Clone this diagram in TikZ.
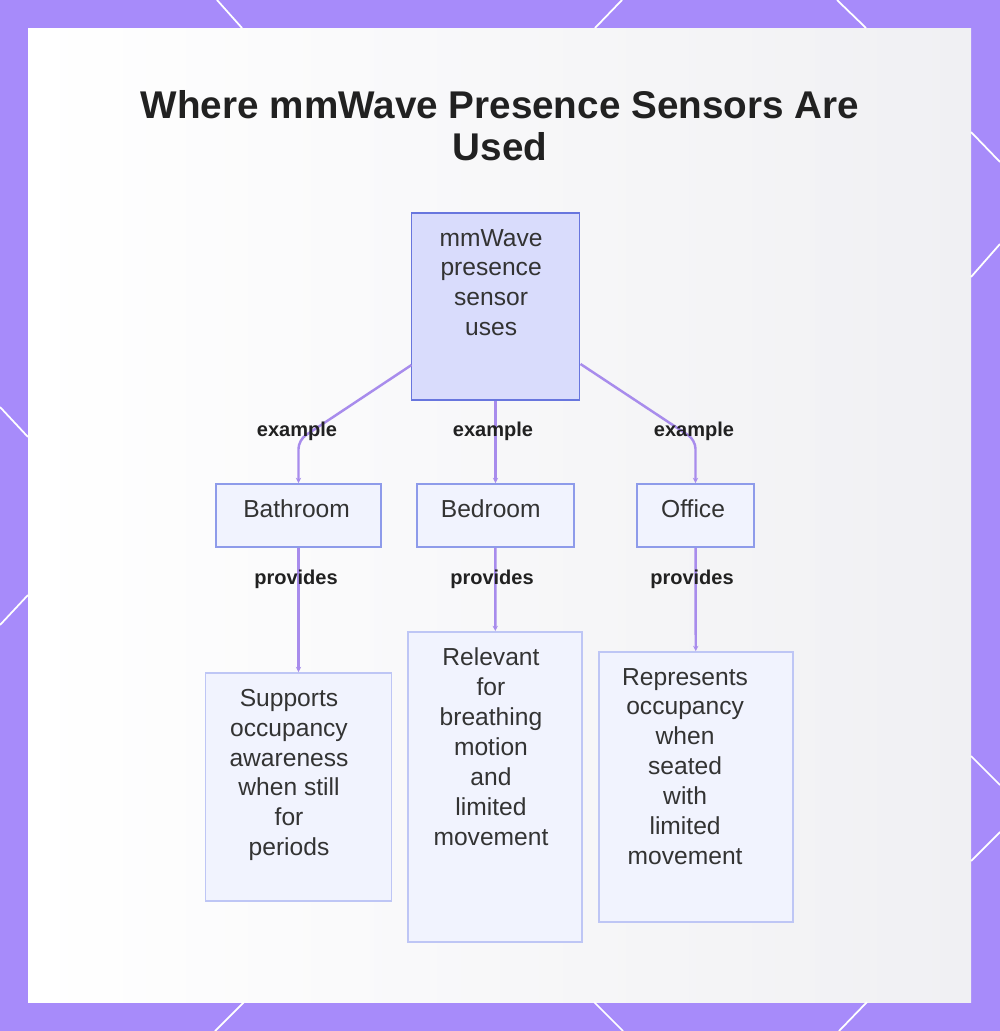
\documentclass[tikz,border=0pt]{standalone}
\usepackage{fontspec}
\setmainfont{Liberation Sans}
\usetikzlibrary{arrows.meta,positioning}

\definecolor{frameColor}{RGB}{167,139,250}
\definecolor{panelGray}{RGB}{240,240,243}
\definecolor{rootFill}{RGB}{217,220,252}
\definecolor{rootLine}{RGB}{104,118,222}
\definecolor{itemFill}{RGB}{241,243,254}
\definecolor{itemLine}{RGB}{142,155,234}
\definecolor{leafLine}{RGB}{190,198,245}
\definecolor{linkColor}{RGB}{168,140,236}
\definecolor{textColor}{RGB}{51,51,51}

\begin{document}
\begin{tikzpicture}[x=0.02cm,y=-0.02cm,
  box/.style={draw, line width=1.1pt, inner sep=0pt},
  boxtext/.style={align=center, inner sep=0pt, text=textColor, font=\fontsize{14}{17}\selectfont},
  tag/.style={inner sep=1pt, text=black!87, font=\fontsize{11.4}{13}\selectfont\bfseries},
  link/.style={draw=linkColor, line width=1.4pt, rounded corners=5pt, -{Stealth[length=3pt,width=3pt]}}]
  \useasboundingbox (0,0) rectangle (1000,1031);
  % Frame
  \fill[frameColor] (0,0) rectangle (1000,1031);
  \shade[left color=white, right color=panelGray] (28,28) rectangle (971,1002);
  \draw[white, line width=1pt] (217,0) -- (242,28) (622,0) -- (595,28) (837,0) -- (866,28);
  \draw[white, line width=1pt] (244,1002) -- (215,1031) (594,1002) -- (623,1031) (867,1002) -- (839,1031);
  \draw[white, line width=1pt] (0,407) -- (28,437) (28,595) -- (0,625);
  \draw[white, line width=1pt] (971,132) -- (1000,162) (971,277) -- (1000,244);
  \draw[white, line width=1pt] (971,756) -- (1000,785) (971,861) -- (1000,832);
  % Title
  \node[align=center, text=black!87, font=\fontsize{22}{24}\selectfont\bfseries] (title) at (500,126)
    {Where mmWave Presence Sensors Are\\Used};
  % Root
  \node[box, draw=rootLine, fill=rootFill, minimum width=3.36cm, minimum height=3.74cm] (root) at (495.5,306.5) {};
  \node[boxtext, below=9.5pt of root.north, xshift=-2.5pt] (rootText) {mmWave\\presence\\sensor\\uses};
  % Places
  \node[box, draw=itemLine, fill=itemFill, minimum width=3.3cm, minimum height=1.26cm] (bath) at (298.5,515.5) {};
  \node[boxtext, below=9.5pt of bath.north, xshift=-1.1pt] (bathText) {Bathroom};
  \node[box, draw=itemLine, fill=itemFill, minimum width=3.14cm, minimum height=1.26cm] (bed) at (495.5,515.5) {};
  \node[boxtext, below=9.5pt of bed.north, xshift=-2.7pt] (bedText) {Bedroom};
  \node[box, draw=itemLine, fill=itemFill, minimum width=2.34cm, minimum height=1.26cm] (office) at (695.5,515.5) {};
  \node[boxtext, below=9.5pt of office.north, xshift=-1.4pt] (officeText) {Office};
  % Benefits
  \node[box, draw=leafLine, fill=itemFill, minimum width=3.72cm, minimum height=4.56cm] (still) at (298.5,787) {};
  \node[boxtext, below=9.5pt of still.north, xshift=-5.4pt] (stillText) {Supports\\occupancy\\awareness\\when still\\for\\periods};
  \node[box, draw=leafLine, fill=itemFill, minimum width=3.48cm, minimum height=6.2cm] (breath) at (495,787) {};
  \node[boxtext, below=9.5pt of breath.north, xshift=-2.3pt] (breathText) {Relevant\\for\\breathing\\motion\\and\\limited\\movement};
  \node[box, draw=leafLine, fill=itemFill, minimum width=3.88cm, minimum height=5.4cm] (seated) at (696,787) {};
  \node[boxtext, below=9.5pt of seated.north, xshift=-6.2pt] (seatedText) {Represents\\occupancy\\when\\seated\\with\\limited\\movement};
  % Links
  \coordinate (rootL) at (411.5,365);
  \coordinate (bendL) at (298.5,440);
  \coordinate (rootR) at (580.5,364);
  \coordinate (bendR) at (695.5,440);
  \draw[link] (rootL) -- (bendL) -- (bath);
  \draw[link] (root) -- (bed);
  \draw[link] (rootR) -- (bendR) -- (office);
  \draw[link] (bath) -- (still);
  \draw[link] (bed) -- (breath);
  \draw[link] (office) -- (seated);
  \node[tag] (exBath) at (297,431) {example};
  \node[tag] (exBed) at (493,431) {example};
  \node[tag] (exOffice) at (694,431) {example};
  \node[tag] (prBath) at (296,579) {provides};
  \node[tag] (prBed) at (492,579) {provides};
  \node[tag] (prOffice) at (692,579) {provides};
\end{tikzpicture}
\end{document}
